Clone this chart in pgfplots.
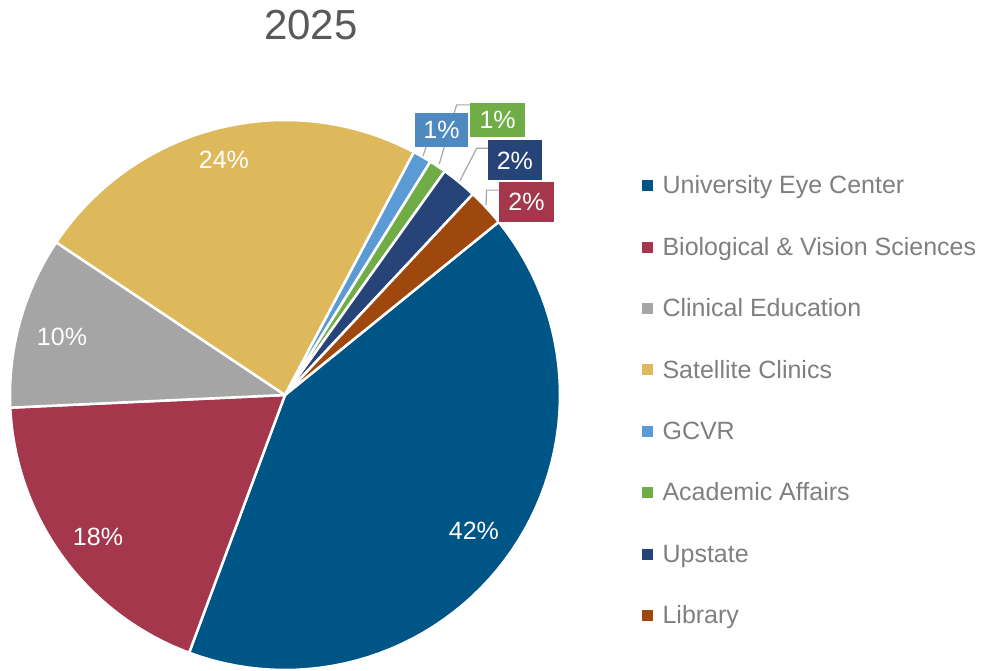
\documentclass[border=0pt]{standalone}
\usepackage{pgfplots}
\pgfplotsset{compat=1.18}
\usepackage{fontspec}
\setmainfont{Liberation Sans}
\definecolor{cUEC}{HTML}{005587}
\definecolor{cBio}{HTML}{A4374B}
\definecolor{cCli}{HTML}{A5A5A5}
\definecolor{cSat}{HTML}{DDB95C}
\definecolor{cGCV}{HTML}{5B9BD5}
\definecolor{cAca}{HTML}{70AD47}
\definecolor{cUps}{HTML}{264478}
\definecolor{cLib}{HTML}{9E480E}
\definecolor{bGCV}{HTML}{4E8AC0}
\definecolor{txtgray}{HTML}{595959}
\definecolor{leggray}{HTML}{7F7F7F}
\definecolor{linegray}{HTML}{A6A6A6}
% shares in percent
\def\vUEC{41.5}\def\vBio{18.6}\def\vCli{10.1}\def\vSat{23.4}
\def\vGCV{1.1}\def\vAca{1.0}\def\vUps{2.1}\def\vLib{2.2}
\pgfmathsetmacro\aA{39}
\pgfmathsetmacro\aB{\aA-3.6*\vUEC}
\pgfmathsetmacro\aC{\aB-3.6*\vBio}
\pgfmathsetmacro\aD{\aC-3.6*\vCli}
\pgfmathsetmacro\aE{\aD-3.6*\vSat}
\pgfmathsetmacro\aF{\aE-3.6*\vGCV}
\pgfmathsetmacro\aG{\aF-3.6*\vAca}
\pgfmathsetmacro\aH{\aG-3.6*\vUps}
\pgfmathsetmacro\aI{\aH-3.6*\vLib}
\newcommand\slice[3]{%
  \filldraw[fill=#3, draw=white, line width=2.5pt, line join=round]
    (axis cs:0,0) -- plot[domain=#1:#2, samples=60, variable=\t] (axis cs:{cos(\t)},{sin(\t)}) -- cycle;}
\newcommand\fs[1]{\fontsize{#1pt}{#1pt}\selectfont}
\begin{document}
\begin{tikzpicture}
\useasboundingbox (0,0) rectangle (985pt,670pt);
\begin{axis}[at={(10pt,0pt)}, anchor=south west, scale only axis,
  width=550pt, height=550pt, xmin=-1, xmax=1, ymin=-1, ymax=1,
  hide axis, clip=false,
  legend style={at={(axis cs:1.298,0.794)}, anchor=north west, draw=none, fill=none,
    inner sep=0pt, row sep=38.4pt, column sep=10pt,
    font=\fs{25}\color{leggray}, nodes={inner sep=0pt, text height=17pt, text depth=6pt}},
  legend cell align=left,
  legend image code/.code={\fill[#1] (0pt,-2pt) rectangle (10pt,8pt);},
  ]
\addlegendimage{cUEC}\addlegendentry{University Eye Center}
\addlegendimage{cBio}\addlegendentry{Biological \& Vision Sciences}
\addlegendimage{cCli}\addlegendentry{Clinical Education}
\addlegendimage{cSat}\addlegendentry{Satellite Clinics}
\addlegendimage{cGCV}\addlegendentry{GCVR}
\addlegendimage{cAca}\addlegendentry{Academic Affairs}
\addlegendimage{cUps}\addlegendentry{Upstate}
\addlegendimage{cLib}\addlegendentry{Library}
\slice{\aA}{\aB}{cUEC}
\slice{\aB}{\aC}{cBio}
\slice{\aC}{\aD}{cCli}
\slice{\aD}{\aE}{cSat}
\slice{\aE}{\aF}{cGCV}
\slice{\aF}{\aG}{cAca}
\slice{\aG}{\aH}{cUps}
\slice{\aH}{\aI}{cLib}
% inside labels
\node[white, font=\fs{25}] at (axis cs:0.687,-0.495) {42\%};
\node[white, font=\fs{25}] at (axis cs:-0.680,-0.516) {18\%};
\node[white, font=\fs{25}] at (axis cs:-0.811,0.211) {10\%};
\node[white, font=\fs{25}] at (axis cs:-0.222,0.855) {24\%};
% leader lines
\draw[linegray, line width=1.2pt] (axis cs:0.502,0.869) -- (axis cs:0.513,0.902);
\draw[linegray, line width=1.2pt] (axis cs:0.561,0.840) -- (axis cs:0.624,1.055) -- (axis cs:0.673,1.055);
\draw[linegray, line width=1.2pt] (axis cs:0.636,0.779) -- (axis cs:0.697,0.897) -- (axis cs:0.738,0.897);
\draw[linegray, line width=1.2pt] (axis cs:0.731,0.691) -- (axis cs:0.733,0.745) -- (axis cs:0.778,0.745);
% outside labels
\node[fill=bGCV, text=white, font=\fs{25}, minimum width=53pt, minimum height=34pt, inner sep=0pt] at (axis cs:0.569,0.965) {1\%};
\node[fill=cAca, text=white, font=\fs{25}, minimum width=55pt, minimum height=34pt, inner sep=0pt] at (axis cs:0.773,0.999) {1\%};
\node[fill=cUps, text=white, font=\fs{25}, minimum width=54pt, minimum height=40pt, inner sep=0pt] at (axis cs:0.836,0.853) {2\%};
\node[fill=cBio, text=white, font=\fs{25}, minimum width=55pt, minimum height=40pt, inner sep=0pt] at (axis cs:0.878,0.701) {2\%};
\end{axis}
\node[txtgray, font=\fs{42}] at (311pt,645pt) {2025};
\end{tikzpicture}
\end{document}
